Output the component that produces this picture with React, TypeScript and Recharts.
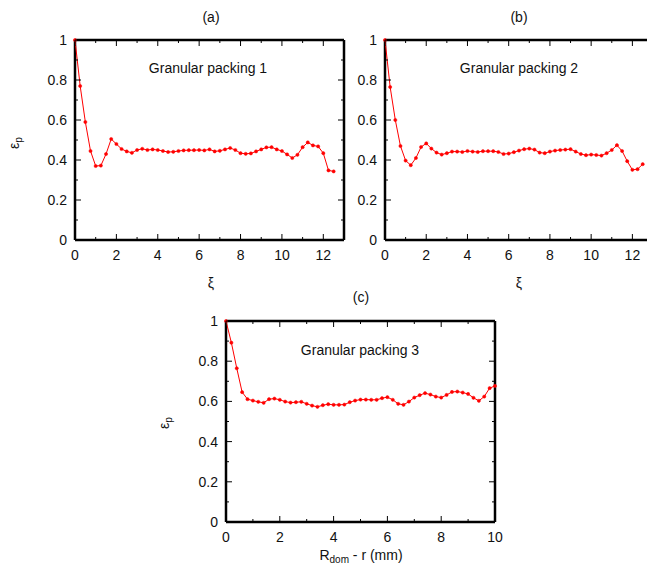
import { LineChart, Line, XAxis, YAxis, ReferenceLine } from "recharts";

// reduced distance xi (panels a, b)
const xiAB = [0, 0.25, 0.5, 0.75, 1, 1.25, 1.5, 1.75, 2, 2.25, 2.5, 2.75, 3, 3.25, 3.5, 3.75, 4, 4.25, 4.5, 4.75, 5, 5.25, 5.5, 5.75, 6, 6.25, 6.5, 6.75, 7, 7.25, 7.5, 7.75, 8, 8.25, 8.5, 8.75, 9, 9.25, 9.5, 9.75, 10, 10.25, 10.5, 10.75, 11, 11.25, 11.5, 11.75, 12, 12.25, 12.5];
// distance from wall in mm (panel c)
const rC = [0, 0.2, 0.4, 0.6, 0.8, 1, 1.2, 1.4, 1.6, 1.8, 2, 2.2, 2.4, 2.6, 2.8, 3, 3.2, 3.4, 3.6, 3.8, 4, 4.2, 4.4, 4.6, 4.8, 5, 5.2, 5.4, 5.6, 5.8, 6, 6.2, 6.4, 6.6, 6.8, 7, 7.2, 7.4, 7.6, 7.8, 8, 8.2, 8.4, 8.6, 8.8, 9, 9.2, 9.4, 9.6, 9.8, 10];

const epsA = [1.0, 0.77, 0.59, 0.445, 0.37, 0.372, 0.43, 0.505, 0.48, 0.455, 0.443, 0.436, 0.45, 0.456, 0.45, 0.453, 0.45, 0.445, 0.44, 0.441, 0.445, 0.448, 0.449, 0.449, 0.45, 0.448, 0.453, 0.443, 0.446, 0.453, 0.46, 0.45, 0.434, 0.431, 0.433, 0.443, 0.453, 0.463, 0.464, 0.453, 0.445, 0.428, 0.41, 0.426, 0.464, 0.488, 0.473, 0.468, 0.434, 0.348, 0.343];
const epsB = [1.0, 0.765, 0.6, 0.47, 0.397, 0.374, 0.41, 0.465, 0.483, 0.457, 0.437, 0.427, 0.434, 0.442, 0.442, 0.44, 0.445, 0.442, 0.44, 0.444, 0.444, 0.444, 0.44, 0.43, 0.432, 0.439, 0.447, 0.454, 0.457, 0.452, 0.437, 0.434, 0.442, 0.447, 0.45, 0.452, 0.454, 0.442, 0.43, 0.424, 0.427, 0.425, 0.422, 0.434, 0.45, 0.474, 0.445, 0.394, 0.351, 0.354, 0.379];
const epsC = [1.0, 0.892, 0.765, 0.646, 0.611, 0.604, 0.598, 0.593, 0.611, 0.614, 0.608, 0.599, 0.594, 0.596, 0.598, 0.588, 0.579, 0.573, 0.581, 0.586, 0.583, 0.583, 0.584, 0.596, 0.604, 0.609, 0.609, 0.608, 0.608, 0.616, 0.621, 0.608, 0.588, 0.583, 0.599, 0.619, 0.631, 0.641, 0.634, 0.624, 0.619, 0.632, 0.647, 0.649, 0.644, 0.637, 0.618, 0.603, 0.624, 0.666, 0.677];

const xTicksAB = [0, 1, 2, 3, 4, 5, 6, 7, 8, 9, 10, 11, 12, 13];
const xTicksC = [0, 1, 2, 3, 4, 5, 6, 7, 8, 9, 10];
const yTicks = [0, 0.1, 0.2, 0.3, 0.4, 0.5, 0.6, 0.7, 0.8, 0.9, 1];

const FONT = "'Liberation Sans', Arial, Helvetica, sans-serif";
const RED = "#ff0000";

const XTick = (props: any) => {
  const { x, y, payload, plotH } = props;
  const v = payload.value;
  const major = v % 2 === 0;
  const len = major ? 6 : 3;
  return (
    <g>
      <line x1={x} y1={y} x2={x} y2={y - len} stroke="#000" strokeWidth={1} />
      <line x1={x} y1={y - plotH} x2={x} y2={y - plotH + len} stroke="#000" strokeWidth={1} />
      {major && (
        <text x={x} y={y + 20} textAnchor="middle" fontSize={14} fontFamily={FONT} fill="#111">
          {v}
        </text>
      )}
    </g>
  );
};

const YTick = (props: any) => {
  const { x, y, payload, plotW } = props;
  const v = payload.value;
  const major = Math.round(v * 10) % 2 === 0;
  const len = major ? 6 : 3;
  return (
    <g>
      <line x1={x} y1={y} x2={x + len} y2={y} stroke="#000" strokeWidth={1} />
      <line x1={x + plotW} y1={y} x2={x + plotW - len} y2={y} stroke="#000" strokeWidth={1} />
      {major && (
        <text x={x - 8} y={y + 5} textAnchor="end" fontSize={14} fontFamily={FONT} fill="#111">
          {v}
        </text>
      )}
    </g>
  );
};

type PanelProps = {
  xs: number[];
  ys: number[];
  xMax: number;
  xTicks: number[];
  width: number;
  height: number;
  margin: { top: number; right: number; bottom: number; left: number };
};

function Panel({ xs, ys, xMax, xTicks, width, height, margin }: PanelProps) {
  const data = xs.map((x, i) => ({ x, eps: ys[i] }));
  const plotW = width - margin.left - margin.right - 40;
  const plotH = height - margin.top - margin.bottom - 30;
  return (
    <LineChart width={width} height={height} data={data} margin={margin}>
      <XAxis
        dataKey="x"
        type="number"
        domain={[0, xMax]}
        ticks={xTicks}
        interval={0}
        height={30}
        axisLine={false}
        tickLine={false}
        tickSize={0}
        tickMargin={0}
        tick={(p: any) => <XTick {...p} plotH={plotH} />}
      />
      <YAxis
        type="number"
        domain={[0, 1]}
        ticks={yTicks}
        interval={0}
        width={40}
        axisLine={false}
        tickLine={false}
        tickSize={0}
        tickMargin={0}
        tick={(p: any) => <YTick {...p} plotW={plotW} />}
      />
      {/* plot frame */}
      <ReferenceLine x={0} stroke="#000" strokeWidth={2.5} ifOverflow="visible" />
      <ReferenceLine x={xMax} stroke="#000" strokeWidth={2.5} ifOverflow="visible" />
      <ReferenceLine y={0} stroke="#000" strokeWidth={2.5} ifOverflow="visible" />
      <ReferenceLine y={1} stroke="#000" strokeWidth={2.5} ifOverflow="visible" />
      <Line
        type="linear"
        dataKey="eps"
        stroke={RED}
        strokeWidth={1}
        dot={{ r: 1.6, fill: RED, stroke: RED, strokeWidth: 0.5 }}
        isAnimationActive={false}
      />
    </LineChart>
  );
}

const label = (x: number, y: number, rotate = false): React.CSSProperties => ({
  position: "absolute",
  left: x,
  top: y,
  transform: `translate(-50%, -50%)${rotate ? " rotate(-90deg)" : ""}`,
  fontFamily: FONT,
  fontSize: 14,
  color: "#111",
  whiteSpace: "nowrap",
  lineHeight: 1,
});

const EpsLabel = () => (
  <span>
    ε<sub style={{ fontSize: 10, verticalAlign: "-3px" }}>p</sub>
  </span>
);

export default function App() {
  return (
    <div style={{ position: "absolute", left: 0, top: 0, width: 647, height: 568, overflow: "hidden", background: "#fff" }}>
      <div style={{ position: "absolute", left: 0, top: 0 }}>
        <Panel xs={xiAB} ys={epsA} xMax={13} xTicks={xTicksAB} width={360} height={300} margin={{ top: 40, right: 16, bottom: 30, left: 35 }} />
      </div>
      <div style={{ position: "absolute", left: 310, top: 0 }}>
        <Panel xs={xiAB} ys={epsB} xMax={13} xTicks={xTicksAB} width={360} height={300} margin={{ top: 40, right: 17, bottom: 30, left: 35 }} />
      </div>
      <div style={{ position: "absolute", left: 150, top: 280 }}>
        <Panel xs={rC} ys={epsC} xMax={10} xTicks={xTicksC} width={360} height={288} margin={{ top: 41, right: 15, bottom: 16, left: 36 }} />
      </div>

      <div style={label(211, 17)}>(a)</div>
      <div style={label(519, 17)}>(b)</div>
      <div style={label(361, 297)}>(c)</div>

      <div style={label(208, 68)}>Granular packing 1</div>
      <div style={label(519, 68)}>Granular packing 2</div>
      <div style={label(360, 350)}>Granular packing 3</div>

      <div style={label(211, 283)}>ξ</div>
      <div style={label(519, 283)}>ξ</div>
      <div style={label(361, 556)}>
        R<sub style={{ fontSize: 10, verticalAlign: "-3px" }}>dom</sub> - r (mm)
      </div>

      <div style={label(15, 143, true)}><EpsLabel /></div>
      <div style={label(165, 423, true)}><EpsLabel /></div>
    </div>
  );
}
